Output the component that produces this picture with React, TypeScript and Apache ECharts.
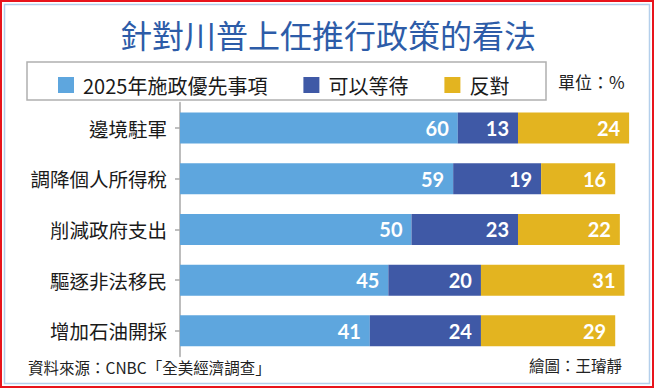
import React, { useEffect, useRef } from "react";
import * as echarts from "echarts";

const categories = ["邊境駐軍", "調降個人所得稅", "削減政府支出", "驅逐非法移民", "增加石油開採"];
const seriesNames = ["2025年施政優先事項", "可以等待", "反對"];
const priority = [60, 59, 50, 45, 41];
const canWait = [13, 19, 23, 20, 24];
const oppose = [24, 16, 22, 31, 29];
const colors = ["#5ea6de", "#3f59a6", "#e3b420"];

const titleText = "針對川普上任推行政策的看法";
const unitText = "單位：%";
const sourceText = "資料來源：CNBC「全美經濟調查」";
const creditText = "繪圖：王璿靜";

const CJK = '"Noto Sans CJK TC", "Noto Sans CJK SC", sans-serif';
const NUM = '"Lato", "Liberation Sans", sans-serif';

export default function App() {
  const ref = useRef<HTMLDivElement>(null);
  useEffect(() => {
    if (!ref.current) return;
    const chart = echarts.init(ref.current, null, { renderer: "svg" });
    const data = [priority, canWait, oppose];
    chart.setOption({
      animation: false,
      backgroundColor: "#ffffff",
      textStyle: { fontFamily: CJK },
      grid: { left: 180, top: 102.7, width: 463, height: 253.5, containLabel: false },
      xAxis: { type: "value", min: 0, max: 100, show: false },
      yAxis: {
        type: "category",
        data: categories,
        inverse: true,
        axisLine: { show: true, lineStyle: { color: "#bdbdbd", width: 2 } },
        axisTick: { show: true, alignWithLabel: true, length: 5, lineStyle: { color: "#aaaaaa", width: 1.5 } },
        axisLabel: { color: "#1a1a1a", fontSize: 19.5, fontFamily: CJK, margin: 13 },
        splitLine: { show: false },
      },
      legend: {
        left: 53,
        top: 70,
        icon: "rect",
        itemWidth: 16,
        itemHeight: 16,
        itemGap: 36,
        selectedMode: false,
        data: seriesNames,
        textStyle: { color: "#1a1a1a", fontSize: 20, lineHeight: 20, fontFamily: CJK, padding: [0, 0, 0, 4] },
      },
      series: seriesNames.map((name, i) => ({
        name,
        type: "bar",
        stack: "total",
        data: data[i],
        barWidth: 31,
        itemStyle: { color: colors[i] },
        label: {
          show: true,
          position: "insideRight",
          distance: 9,
          color: "#ffffff",
          fontSize: 20,
          fontWeight: "bold",
          fontFamily: NUM,
        },
      })),
      graphic: [
        { type: "rect", z: -10, shape: { x: 1, y: 1, width: 652, height: 386 }, style: { fill: "none", stroke: "#e8141c", lineWidth: 2 } },
        { type: "rect", z: -10, shape: { x: 4.5, y: 4.5, width: 645, height: 379 }, style: { fill: "none", stroke: "#b4cfeb", lineWidth: 1.5 } },
        { type: "rect", z: -5, shape: { x: 27, y: 62, width: 519, height: 38 }, style: { fill: "#ffffff", stroke: "#b0b0b0", lineWidth: 1.5 } },
        {
          type: "text",
          x: 328,
          y: 34,
          style: { text: titleText, fill: "#2d5ca8", fontSize: 32, fontFamily: CJK, align: "center", verticalAlign: "middle" },
        },
        {
          type: "text",
          x: 558,
          y: 81,
          style: { text: unitText, fill: "#222", fontSize: 17, fontFamily: CJK, align: "left", verticalAlign: "middle" },
        },
        {
          type: "text",
          x: 28,
          y: 367,
          style: { text: sourceText, fill: "#222", fontSize: 15.5, fontFamily: CJK, align: "left", verticalAlign: "middle" },
        },
        {
          type: "text",
          x: 622,
          y: 365,
          style: { text: creditText, fill: "#222", fontSize: 15.5, fontFamily: CJK, align: "right", verticalAlign: "middle" },
        },
      ],
    });
    return () => chart.dispose();
  }, []);
  return (
    <div
      ref={ref}
      style={{ position: "fixed", left: 0, top: 0, width: 656, height: 389, background: "#fff" }}
    />
  );
}
